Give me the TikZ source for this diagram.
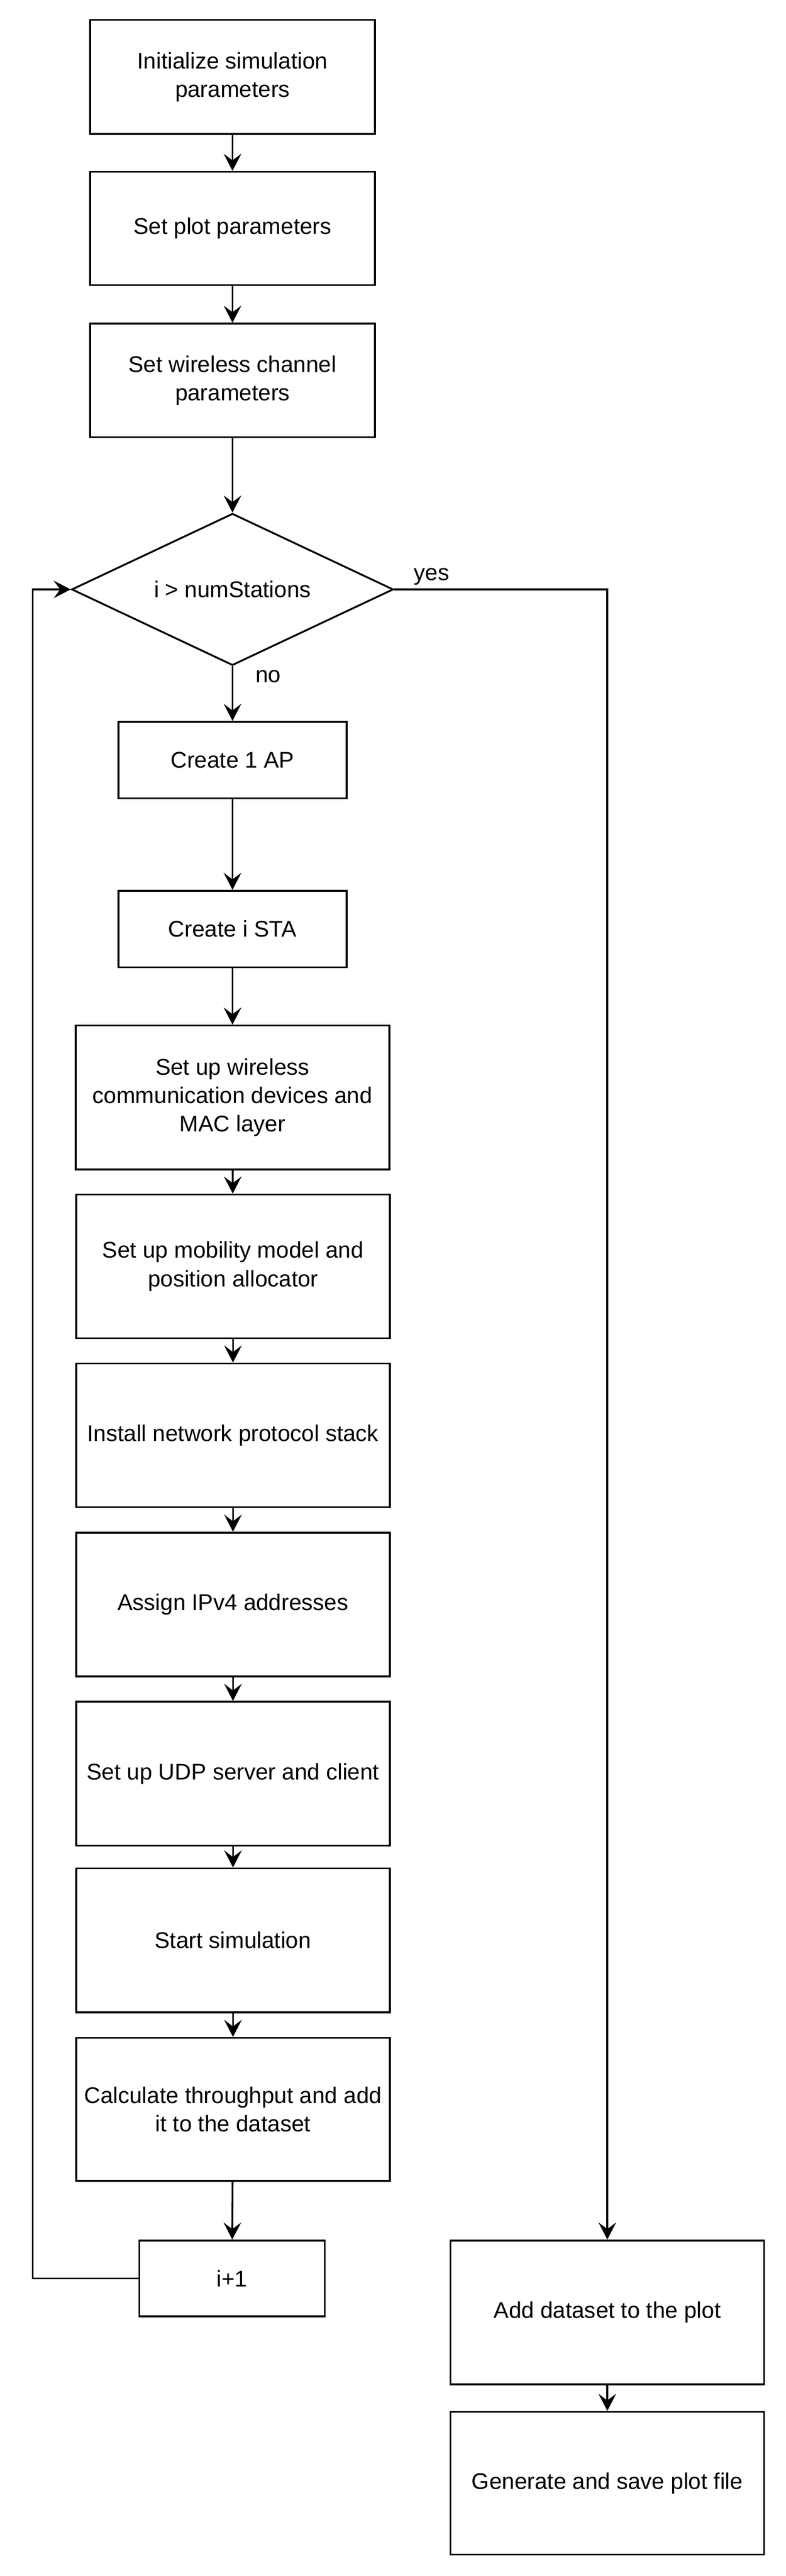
\documentclass[tikz,border=0pt]{standalone}
\usepackage{fontspec}
\setmainfont{Liberation Sans}
\usetikzlibrary{shapes.geometric,arrows.meta}
\tikzset{
  box/.style={draw,line width=1.1pt,align=center,inner sep=0pt,minimum width=6.61cm,minimum height=3.03cm},
  decision/.style={draw,diamond,line width=1.1pt,aspect=2.12,inner sep=0pt,minimum width=6.78cm,minimum height=3.2cm},
  flow/.style={line width=1.1pt,-{Stealth[length=0.36cm,width=0.37cm,inset=0.14cm]}}
}
\begin{document}
\begin{tikzpicture}[font=\fontsize{13.6pt}{17pt}\selectfont]
        \useasboundingbox (0,0) rectangle (16.56,-54.28);
        \node[box,minimum width=6.0cm,minimum height=2.4cm] (init) at (4.9,-1.62) {Initialize simulation\\parameters};
        \node[box,minimum width=6.0cm,minimum height=2.39cm] (plot) at (4.9,-4.815) {Set plot parameters};
        \node[box,minimum width=6.0cm,minimum height=2.39cm] (channel) at (4.9,-8.015) {Set wireless channel\\parameters};
        \node[decision] (cond) at (4.9,-12.42) {i > numStations};
        \node[box,minimum width=4.81cm,minimum height=1.61cm] (ap) at (4.9,-16.015) {Create 1 AP};
        \node[box,minimum width=4.81cm,minimum height=1.61cm] (sta) at (4.9,-19.575) {Create i STA};
        \node[box] (wifi) at (4.9,-23.125) {Set up wireless\\communication devices and\\MAC layer};
        \node[box] (mobility) at (4.91,-26.685) {Set up mobility model and\\position allocator};
        \node[box] (stack) at (4.91,-30.245) {Install network protocol stack};
        \node[box] (ipv4) at (4.91,-33.81) {Assign IPv4 addresses};
        \node[box] (udp) at (4.91,-37.375) {Set up UDP server and client};
        \node[box] (start) at (4.91,-40.885) {Start simulation};
        \node[box,minimum height=3.01cm] (calc) at (4.91,-44.445) {Calculate throughput and add\\it to the dataset};
        \node[box,minimum width=3.91cm,minimum height=1.6cm] (inc) at (4.89,-48.01) {i+1};
        \node[box] (add) at (12.8,-48.725) {Add dataset to the plot};
        \node[box,minimum height=3.01cm] (save) at (12.8,-52.325) {Generate and save plot file};
        \node[anchor=base west,inner sep=0pt] (yes) at (8.72,-12.23) {yes};
        \node[anchor=base west,inner sep=0pt] (no) at (5.38,-14.38) {no};
        \coordinate (back) at (0.69,-48.01);
        \draw[flow] (init) -- (plot);
        \draw[flow] (plot) -- (channel);
        \draw[flow] (channel) -- (cond);
        \draw[flow] (cond) -- (ap);
        \draw[flow] (ap) -- (sta);
        \draw[flow] (sta) -- (wifi);
        \draw[flow] (wifi) -- (mobility);
        \draw[flow] (mobility) -- (stack);
        \draw[flow] (stack) -- (ipv4);
        \draw[flow] (ipv4) -- (udp);
        \draw[flow] (udp) -- (start);
        \draw[flow] (start) -- (calc);
        \draw[flow] (calc) -- (inc);
        \draw[flow] (inc.west) -- (back) |- (cond.west);
        \draw[flow] (cond.east) -| (add.north);
        \draw[flow] (add) -- (save);
    \end{tikzpicture}
\end{document}
